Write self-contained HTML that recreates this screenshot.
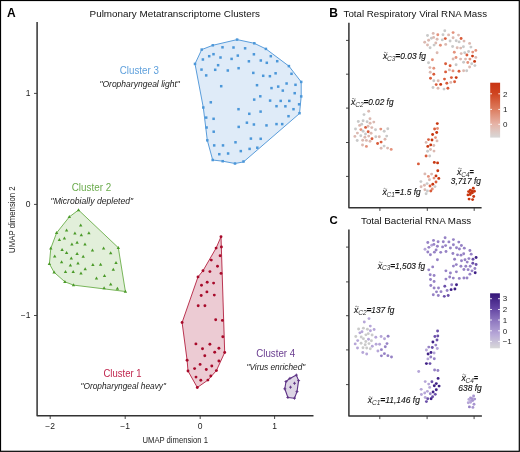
<!DOCTYPE html><html><head><meta charset="utf-8"><style>html,body{margin:0;padding:0;background:#fff;}svg{display:block;will-change:transform;font-family:"Liberation Sans",sans-serif;}</style></head><body>
<svg width="520" height="452" viewBox="0 0 520 452">
<rect x="0" y="0" width="520" height="452" fill="#fff"/>
<rect x="0.5" y="0.5" width="518.8" height="450.8" fill="none" stroke="#000" stroke-width="1.2"/>
<text x="7" y="16.8" font-size="12" font-weight="bold" fill="#000">A</text>
<text x="89.6" y="16.6" font-size="9.4" fill="#111" textLength="170.4" lengthAdjust="spacingAndGlyphs">Pulmonary Metatranscriptome Clusters</text>
<path d="M37.1 22 V415.8 H313.5" fill="none" stroke="#333" stroke-width="1.5" stroke-linejoin="round"/>
<path d="M34 93.4 H37" stroke="#333" stroke-width="0.9"/>
<path d="M34 204.4 H37" stroke="#333" stroke-width="0.9"/>
<path d="M34 315.5 H37" stroke="#333" stroke-width="0.9"/>
<path d="M50.2 415.8 V419" stroke="#333" stroke-width="0.9"/>
<path d="M125.2 415.8 V419" stroke="#333" stroke-width="0.9"/>
<path d="M200.2 415.8 V419" stroke="#333" stroke-width="0.9"/>
<path d="M274.6 415.8 V419" stroke="#333" stroke-width="0.9"/>
<text x="30.4" y="95.8" font-size="8.5" fill="#222" text-anchor="end">1</text>
<text x="30.4" y="207.2" font-size="8.5" fill="#222" text-anchor="end">0</text>
<text x="30.4" y="318.2" font-size="8.5" fill="#222" text-anchor="end">−1</text>
<text x="50.2" y="429.3" font-size="8.5" fill="#222" text-anchor="middle">−2</text>
<text x="125.2" y="429.3" font-size="8.5" fill="#222" text-anchor="middle">−1</text>
<text x="200.2" y="429.3" font-size="8.5" fill="#222" text-anchor="middle">0</text>
<text x="274.6" y="429.3" font-size="8.5" fill="#222" text-anchor="middle">1</text>
<text x="142.5" y="442.7" font-size="9" fill="#222" textLength="65.4" lengthAdjust="spacingAndGlyphs">UMAP dimension 1</text>
<text transform="translate(15.3 252.9) rotate(-90)" font-size="9" fill="#222" textLength="66.6" lengthAdjust="spacingAndGlyphs">UMAP dimension 2</text>
<polygon points="237.1,39.6 254.3,43.3 265.9,48.9 288.9,66.1 301.2,81.9 301.2,96.4 299.5,113.5 243.5,161.9 235,163.5 222.7,161.2 212.7,160 207.3,140.3 203.3,107.5 195,63.9 201.7,49.6 212.8,45.3" fill="#dfebf8" stroke="#5a9ddb" stroke-width="1.0" stroke-linejoin="round"/>
<g fill="#4b97d9">
<rect x="235.85" y="38.35" width="2.5" height="2.5"/>
<rect x="253.05" y="42.05" width="2.5" height="2.5"/>
<rect x="211.55" y="44.05" width="2.5" height="2.5"/>
<rect x="264.65" y="47.65" width="2.5" height="2.5"/>
<rect x="200.45" y="48.35" width="2.5" height="2.5"/>
<rect x="221.25" y="46.05" width="2.5" height="2.5"/>
<rect x="232.25" y="46.25" width="2.5" height="2.5"/>
<rect x="243.85" y="47.05" width="2.5" height="2.5"/>
<rect x="252.65" y="53.05" width="2.5" height="2.5"/>
<rect x="207.95" y="54.95" width="2.5" height="2.5"/>
<rect x="212.25" y="52.95" width="2.5" height="2.5"/>
<rect x="236.55" y="54.35" width="2.5" height="2.5"/>
<rect x="269.55" y="54.95" width="2.5" height="2.5"/>
<rect x="201.65" y="58.25" width="2.5" height="2.5"/>
<rect x="219.25" y="56.25" width="2.5" height="2.5"/>
<rect x="230.35" y="57.65" width="2.5" height="2.5"/>
<rect x="247.65" y="60.05" width="2.5" height="2.5"/>
<rect x="259.55" y="59.25" width="2.5" height="2.5"/>
<rect x="265.55" y="61.55" width="2.5" height="2.5"/>
<rect x="275.95" y="59.95" width="2.5" height="2.5"/>
<rect x="193.75" y="62.65" width="2.5" height="2.5"/>
<rect x="216.85" y="63.95" width="2.5" height="2.5"/>
<rect x="287.65" y="64.85" width="2.5" height="2.5"/>
<rect x="200.25" y="68.35" width="2.5" height="2.5"/>
<rect x="213.95" y="68.55" width="2.5" height="2.5"/>
<rect x="226.55" y="69.25" width="2.5" height="2.5"/>
<rect x="237.35" y="66.95" width="2.5" height="2.5"/>
<rect x="252.05" y="71.65" width="2.5" height="2.5"/>
<rect x="261.95" y="74.55" width="2.5" height="2.5"/>
<rect x="268.65" y="74.95" width="2.5" height="2.5"/>
<rect x="274.35" y="72.05" width="2.5" height="2.5"/>
<rect x="290.25" y="72.55" width="2.5" height="2.5"/>
<rect x="204.95" y="74.15" width="2.5" height="2.5"/>
<rect x="299.95" y="80.65" width="2.5" height="2.5"/>
<rect x="255.75" y="83.95" width="2.5" height="2.5"/>
<rect x="219.95" y="84.95" width="2.5" height="2.5"/>
<rect x="270.25" y="86.85" width="2.5" height="2.5"/>
<rect x="276.95" y="85.35" width="2.5" height="2.5"/>
<rect x="285.35" y="82.25" width="2.5" height="2.5"/>
<rect x="294.25" y="83.55" width="2.5" height="2.5"/>
<rect x="281.55" y="89.35" width="2.5" height="2.5"/>
<rect x="293.45" y="91.95" width="2.5" height="2.5"/>
<rect x="259.05" y="95.05" width="2.5" height="2.5"/>
<rect x="299.95" y="95.15" width="2.5" height="2.5"/>
<rect x="252.95" y="98.35" width="2.5" height="2.5"/>
<rect x="268.85" y="99.35" width="2.5" height="2.5"/>
<rect x="279.45" y="99.65" width="2.5" height="2.5"/>
<rect x="288.05" y="99.65" width="2.5" height="2.5"/>
<rect x="209.55" y="101.05" width="2.5" height="2.5"/>
<rect x="297.85" y="103.05" width="2.5" height="2.5"/>
<rect x="275.25" y="104.95" width="2.5" height="2.5"/>
<rect x="284.15" y="105.05" width="2.5" height="2.5"/>
<rect x="202.05" y="106.25" width="2.5" height="2.5"/>
<rect x="237.25" y="107.95" width="2.5" height="2.5"/>
<rect x="292.25" y="107.95" width="2.5" height="2.5"/>
<rect x="259.35" y="110.35" width="2.5" height="2.5"/>
<rect x="248.05" y="112.55" width="2.5" height="2.5"/>
<rect x="298.25" y="111.95" width="2.5" height="2.5"/>
<rect x="287.25" y="114.95" width="2.5" height="2.5"/>
<rect x="204.95" y="116.35" width="2.5" height="2.5"/>
<rect x="212.35" y="117.55" width="2.5" height="2.5"/>
<rect x="245.65" y="121.45" width="2.5" height="2.5"/>
<rect x="252.65" y="123.25" width="2.5" height="2.5"/>
<rect x="265.25" y="124.15" width="2.5" height="2.5"/>
<rect x="275.25" y="122.85" width="2.5" height="2.5"/>
<rect x="280.95" y="122.85" width="2.5" height="2.5"/>
<rect x="237.45" y="125.65" width="2.5" height="2.5"/>
<rect x="205.35" y="126.25" width="2.5" height="2.5"/>
<rect x="212.45" y="130.45" width="2.5" height="2.5"/>
<rect x="249.65" y="137.35" width="2.5" height="2.5"/>
<rect x="259.45" y="137.55" width="2.5" height="2.5"/>
<rect x="206.05" y="139.05" width="2.5" height="2.5"/>
<rect x="234.25" y="141.05" width="2.5" height="2.5"/>
<rect x="212.95" y="144.15" width="2.5" height="2.5"/>
<rect x="221.75" y="144.15" width="2.5" height="2.5"/>
<rect x="239.55" y="149.85" width="2.5" height="2.5"/>
<rect x="248.35" y="147.65" width="2.5" height="2.5"/>
<rect x="256.05" y="146.45" width="2.5" height="2.5"/>
<rect x="218.05" y="152.95" width="2.5" height="2.5"/>
<rect x="226.85" y="152.25" width="2.5" height="2.5"/>
<rect x="211.45" y="158.75" width="2.5" height="2.5"/>
<rect x="221.45" y="159.95" width="2.5" height="2.5"/>
<rect x="233.75" y="162.25" width="2.5" height="2.5"/>
<rect x="242.25" y="160.25" width="2.5" height="2.5"/>
</g>
<polygon points="78.5,210 118.3,247.7 125.4,291.5 73.5,285.1 64.9,281.8 54.1,272.3 49.4,263.8 50.8,248.3 56.6,232.9 69.3,216.9" fill="#e2efda" stroke="#6aae48" stroke-width="0.9" stroke-linejoin="round"/>
<g fill="#4a9a28">
<path d="M78.5 208.2l1.7 3h-3.4z"/>
<path d="M69.3 215.1l1.7 3h-3.4z"/>
<path d="M80.7 223.4l1.7 3h-3.4z"/>
<path d="M88.9 231.3l1.7 3h-3.4z"/>
<path d="M56.6 231.1l1.7 3h-3.4z"/>
<path d="M66.6 228.6l1.7 3h-3.4z"/>
<path d="M74.9 231.4l1.7 3h-3.4z"/>
<path d="M81.3 233.3l1.7 3h-3.4z"/>
<path d="M59.4 238l1.7 3h-3.4z"/>
<path d="M64.4 236.6l1.7 3h-3.4z"/>
<path d="M77.1 240.8l1.7 3h-3.4z"/>
<path d="M71.9 242.5l1.7 3h-3.4z"/>
<path d="M85 242.6l1.7 3h-3.4z"/>
<path d="M50.8 246.5l1.7 3h-3.4z"/>
<path d="M62.1 248.1l1.7 3h-3.4z"/>
<path d="M66.6 251.1l1.7 3h-3.4z"/>
<path d="M77.1 251.9l1.7 3h-3.4z"/>
<path d="M92.5 248.5l1.7 3h-3.4z"/>
<path d="M103.6 246.5l1.7 3h-3.4z"/>
<path d="M110.7 251.3l1.7 3h-3.4z"/>
<path d="M118.3 245.9l1.7 3h-3.4z"/>
<path d="M83.2 254.8l1.7 3h-3.4z"/>
<path d="M54.7 254.6l1.7 3h-3.4z"/>
<path d="M71.3 256.5l1.7 3h-3.4z"/>
<path d="M61.6 260.3l1.7 3h-3.4z"/>
<path d="M70.4 263.6l1.7 3h-3.4z"/>
<path d="M78 261.4l1.7 3h-3.4z"/>
<path d="M85.2 267.2l1.7 3h-3.4z"/>
<path d="M92.9 263.1l1.7 3h-3.4z"/>
<path d="M100.6 262.8l1.7 3h-3.4z"/>
<path d="M116 261l1.7 3h-3.4z"/>
<path d="M113.3 267.7l1.7 3h-3.4z"/>
<path d="M65.5 270.1l1.7 3h-3.4z"/>
<path d="M73.2 270.1l1.7 3h-3.4z"/>
<path d="M81 271.6l1.7 3h-3.4z"/>
<path d="M96.5 276.6l1.7 3h-3.4z"/>
<path d="M104.5 273.9l1.7 3h-3.4z"/>
<path d="M110.7 282.6l1.7 3h-3.4z"/>
<path d="M49.4 262l1.7 3h-3.4z"/>
<path d="M54.1 270.5l1.7 3h-3.4z"/>
<path d="M64.9 280l1.7 3h-3.4z"/>
<path d="M73.5 283.3l1.7 3h-3.4z"/>
<path d="M104.1 286.3l1.7 3h-3.4z"/>
<path d="M117.4 286.7l1.7 3h-3.4z"/>
<path d="M125.4 289.7l1.7 3h-3.4z"/>
</g>
<polygon points="221,236.7 224.7,352.5 216.4,370.6 207.9,380.1 197.3,387.5 188,371 187.1,360.2 182.1,322.5 198,276.9 203,270.7 216.1,248.1" fill="#eccbd3" stroke="#b3203f" stroke-width="0.9" stroke-linejoin="round"/>
<g fill="#a80a2a">
<circle cx="221" cy="236.7" r="1.45"/>
<circle cx="216.1" cy="248.1" r="1.45"/>
<circle cx="221.4" cy="247" r="1.45"/>
<circle cx="220.1" cy="255.7" r="1.45"/>
<circle cx="211.3" cy="260.1" r="1.45"/>
<circle cx="217.5" cy="266.3" r="1.45"/>
<circle cx="203" cy="270.7" r="1.45"/>
<circle cx="209.9" cy="271.6" r="1.45"/>
<circle cx="221" cy="273.4" r="1.45"/>
<circle cx="198" cy="276.9" r="1.45"/>
<circle cx="201.5" cy="285.2" r="1.45"/>
<circle cx="207.2" cy="282.2" r="1.45"/>
<circle cx="213.6" cy="283.1" r="1.45"/>
<circle cx="206.9" cy="291.9" r="1.45"/>
<circle cx="201.2" cy="295.5" r="1.45"/>
<circle cx="214.3" cy="295.1" r="1.45"/>
<circle cx="198.2" cy="305.7" r="1.45"/>
<circle cx="204.9" cy="305.7" r="1.45"/>
<circle cx="182.1" cy="322.5" r="1.45"/>
<circle cx="215.7" cy="319.8" r="1.45"/>
<circle cx="222.4" cy="320.4" r="1.45"/>
<circle cx="222.8" cy="336.8" r="1.45"/>
<circle cx="195.9" cy="343.9" r="1.45"/>
<circle cx="209.9" cy="344.2" r="1.45"/>
<circle cx="202.5" cy="348.7" r="1.45"/>
<circle cx="218.9" cy="348.2" r="1.45"/>
<circle cx="214.7" cy="352.3" r="1.45"/>
<circle cx="224.7" cy="352.5" r="1.45"/>
<circle cx="204.8" cy="355.8" r="1.45"/>
<circle cx="187.1" cy="360.2" r="1.45"/>
<circle cx="218.9" cy="361" r="1.45"/>
<circle cx="200.1" cy="364.4" r="1.45"/>
<circle cx="211.8" cy="366" r="1.45"/>
<circle cx="194.6" cy="368.6" r="1.45"/>
<circle cx="206.3" cy="369.5" r="1.45"/>
<circle cx="188" cy="371" r="1.45"/>
<circle cx="216.4" cy="370.6" r="1.45"/>
<circle cx="210.8" cy="376" r="1.45"/>
<circle cx="196" cy="377.1" r="1.45"/>
<circle cx="207.9" cy="380.1" r="1.45"/>
<circle cx="200.8" cy="380.3" r="1.45"/>
<circle cx="197.3" cy="387.5" r="1.45"/>
</g>
<polygon points="296.4,375.1 298.6,380.6 297,391.6 294.5,398.2 287.9,397.5 284.8,388.8 286,381.5 289.9,378.4" fill="#ddd5e5" stroke="#5c3185" stroke-width="1.1" stroke-linejoin="round"/>
<g stroke="#5c3185" stroke-width="0.9">
<path d="M294.9 375.1h3M296.4 373.6v3"/>
<path d="M297.1 380.6h3M298.6 379.1v3"/>
<path d="M295.5 391.6h3M297 390.1v3"/>
<path d="M293 398.2h3M294.5 396.7v3"/>
<path d="M286.4 397.5h3M287.9 396v3"/>
<path d="M283.3 388.8h3M284.8 387.3v3"/>
<path d="M284.5 381.5h3M286 380v3"/>
<path d="M288.4 378.4h3M289.9 376.9v3"/>
<path d="M293 383.3h3M294.5 381.8v3"/>
<path d="M289 387.2h3M290.5 385.7v3"/>
</g>
<text x="119.8" y="74" font-size="10.5" fill="#5fa0dc" textLength="39" lengthAdjust="spacingAndGlyphs">Cluster 3</text>
<text x="99.4" y="86.6" font-size="8.6" font-style="italic" fill="#222" textLength="80.4" lengthAdjust="spacingAndGlyphs">"Oropharyngeal light"</text>
<text x="71.7" y="191.3" font-size="10.5" fill="#6aab4c" textLength="39.5" lengthAdjust="spacingAndGlyphs">Cluster 2</text>
<text x="50.6" y="203.5" font-size="8.6" font-style="italic" fill="#222" textLength="82.6" lengthAdjust="spacingAndGlyphs">"Microbially depleted"</text>
<text x="103.5" y="376.8" font-size="10.5" fill="#c0264e" textLength="38" lengthAdjust="spacingAndGlyphs">Cluster 1</text>
<text x="80.5" y="389.3" font-size="8.6" font-style="italic" fill="#222" textLength="85.4" lengthAdjust="spacingAndGlyphs">"Oropharyngeal heavy"</text>
<text x="256.2" y="357" font-size="10.5" fill="#6a3d90" textLength="39" lengthAdjust="spacingAndGlyphs">Cluster 4</text>
<text x="246.5" y="369.6" font-size="8.6" font-style="italic" fill="#222" textLength="58.8" lengthAdjust="spacingAndGlyphs">"Virus enriched"</text>
<text x="329.3" y="16.9" font-size="12" font-weight="bold" fill="#000">B</text>
<text x="343.6" y="16.9" font-size="9.4" fill="#111" textLength="143.4" lengthAdjust="spacingAndGlyphs">Total Respiratory Viral RNA Mass</text>
<path d="M348.9 22.7 V207.8 H481.6" fill="none" stroke="#333" stroke-width="1.5" stroke-linejoin="round"/>
<path d="M346 40.4 H349" stroke="#333" stroke-width="0.9"/>
<path d="M346 74.2 H349" stroke="#333" stroke-width="0.9"/>
<path d="M346 108.1 H349" stroke="#333" stroke-width="0.9"/>
<path d="M346 142.5 H349" stroke="#333" stroke-width="0.9"/>
<path d="M346 176.4 H349" stroke="#333" stroke-width="0.9"/>
<path d="M379.9 207.8 V210.9" stroke="#333" stroke-width="0.9"/>
<path d="M427.3 207.8 V210.9" stroke="#333" stroke-width="0.9"/>
<path d="M474.2 207.8 V210.9" stroke="#333" stroke-width="0.9"/>
<text x="329.4" y="223.6" font-size="11.4" font-weight="bold" fill="#000">C</text>
<text x="361.0" y="223.6" font-size="9.4" fill="#111" textLength="110.2" lengthAdjust="spacingAndGlyphs">Total Bacterial RNA Mass</text>
<path d="M348.9 229.4 V416 H481.9" fill="none" stroke="#333" stroke-width="1.5" stroke-linejoin="round"/>
<path d="M346 247.1 H349" stroke="#333" stroke-width="0.9"/>
<path d="M346 281.9 H349" stroke="#333" stroke-width="0.9"/>
<path d="M346 315.7 H349" stroke="#333" stroke-width="0.9"/>
<path d="M346 349.9 H349" stroke="#333" stroke-width="0.9"/>
<path d="M346 384.6 H349" stroke="#333" stroke-width="0.9"/>
<path d="M379.8 416 V419.1" stroke="#333" stroke-width="0.9"/>
<path d="M427.1 416 V419.1" stroke="#333" stroke-width="0.9"/>
<path d="M474.1 416 V419.1" stroke="#333" stroke-width="0.9"/>
<g>
<circle cx="444.8" cy="30.8" r="1.45" fill="#c9c9c9"/>
<circle cx="433.2" cy="33.4" r="1.45" fill="#dbb9b1"/>
<circle cx="437.8" cy="34.7" r="1.45" fill="#e4927c"/>
<circle cx="443" cy="34.7" r="1.45" fill="#c9c9c9"/>
<circle cx="448.6" cy="34.9" r="1.45" fill="#dbb9b1"/>
<circle cx="427.5" cy="35.5" r="1.45" fill="#c9c9c9"/>
<circle cx="431.4" cy="38.3" r="1.45" fill="#c9c9c9"/>
<circle cx="433.6" cy="37.4" r="1.45" fill="#dbb9b1"/>
<circle cx="437.1" cy="39.2" r="1.45" fill="#dbb9b1"/>
<circle cx="442.3" cy="39.9" r="1.45" fill="#c9c9c9"/>
<circle cx="445.3" cy="38.6" r="1.45" fill="#d95c3b"/>
<circle cx="428.6" cy="40.3" r="1.45" fill="#dbb9b1"/>
<circle cx="424.7" cy="42.2" r="1.45" fill="#dbb9b1"/>
<circle cx="435.8" cy="43" r="1.45" fill="#dbb9b1"/>
<circle cx="434.1" cy="45.1" r="1.45" fill="#c9c9c9"/>
<circle cx="427.5" cy="45" r="1.45" fill="#dbb9b1"/>
<circle cx="440.4" cy="45.3" r="1.45" fill="#e4927c"/>
<circle cx="445.7" cy="44.4" r="1.45" fill="#dbb9b1"/>
<circle cx="430.1" cy="47.7" r="1.45" fill="#c9c9c9"/>
<circle cx="450.1" cy="41" r="1.45" fill="#c9c9c9"/>
<circle cx="437.1" cy="52.7" r="1.45" fill="#dbb9b1"/>
<circle cx="432.4" cy="59.8" r="1.45" fill="#e4927c"/>
<circle cx="453.1" cy="32.6" r="1.45" fill="#e4927c"/>
<circle cx="458.5" cy="35.1" r="1.45" fill="#dbb9b1"/>
<circle cx="453.1" cy="37.8" r="1.45" fill="#dbb9b1"/>
<circle cx="461.1" cy="38.5" r="1.45" fill="#d95c3b"/>
<circle cx="456.2" cy="40.7" r="1.45" fill="#c9c9c9"/>
<circle cx="459.1" cy="41.9" r="1.45" fill="#c9c9c9"/>
<circle cx="464" cy="41.1" r="1.45" fill="#dbb9b1"/>
<circle cx="469.6" cy="43.4" r="1.45" fill="#dbb9b1"/>
<circle cx="452.6" cy="46.5" r="1.45" fill="#c9c9c9"/>
<circle cx="457.2" cy="47.8" r="1.45" fill="#dbb9b1"/>
<circle cx="460.7" cy="48.1" r="1.45" fill="#dbb9b1"/>
<circle cx="463.4" cy="46.7" r="1.45" fill="#c9c9c9"/>
<circle cx="470.9" cy="47.1" r="1.45" fill="#c9c9c9"/>
<circle cx="454.3" cy="52.2" r="1.45" fill="#e4927c"/>
<circle cx="461.2" cy="53.6" r="1.45" fill="#dbb9b1"/>
<circle cx="464.7" cy="52.7" r="1.45" fill="#c9c9c9"/>
<circle cx="468.6" cy="51.5" r="1.45" fill="#c9c9c9"/>
<circle cx="472.7" cy="52.1" r="1.45" fill="#e4927c"/>
<circle cx="475.8" cy="50.4" r="1.45" fill="#e4927c"/>
<circle cx="466.9" cy="55" r="1.45" fill="#d95c3b"/>
<circle cx="472.5" cy="56.1" r="1.45" fill="#c8360f"/>
<circle cx="475.8" cy="57.4" r="1.45" fill="#dbb9b1"/>
<circle cx="456" cy="57.5" r="1.45" fill="#e4927c"/>
<circle cx="453.1" cy="59" r="1.45" fill="#dbb9b1"/>
<circle cx="460.6" cy="59.1" r="1.45" fill="#dbb9b1"/>
<circle cx="465.5" cy="59.1" r="1.45" fill="#dbb9b1"/>
<circle cx="469.9" cy="59.1" r="1.45" fill="#e4927c"/>
<circle cx="428.5" cy="62.7" r="1.45" fill="#c9c9c9"/>
<circle cx="429.9" cy="67.6" r="1.45" fill="#dbb9b1"/>
<circle cx="433.8" cy="68.3" r="1.45" fill="#e4927c"/>
<circle cx="430.2" cy="72.3" r="1.45" fill="#dbb9b1"/>
<circle cx="433.8" cy="74.3" r="1.45" fill="#d95c3b"/>
<circle cx="430.5" cy="78.3" r="1.45" fill="#d95c3b"/>
<circle cx="433.8" cy="80.7" r="1.45" fill="#c9c9c9"/>
<circle cx="438.2" cy="80.7" r="1.45" fill="#dbb9b1"/>
<circle cx="436.2" cy="84.6" r="1.45" fill="#d95c3b"/>
<circle cx="440.7" cy="84.4" r="1.45" fill="#c8360f"/>
<circle cx="433" cy="87.5" r="1.45" fill="#c9c9c9"/>
<circle cx="438" cy="88.2" r="1.45" fill="#dbb9b1"/>
<circle cx="444" cy="89.1" r="1.45" fill="#c9c9c9"/>
<circle cx="447.9" cy="88.3" r="1.45" fill="#d95c3b"/>
<circle cx="445.6" cy="63.7" r="1.45" fill="#d95c3b"/>
<circle cx="450.1" cy="65.8" r="1.45" fill="#d95c3b"/>
<circle cx="449.4" cy="69.9" r="1.45" fill="#dbb9b1"/>
<circle cx="445.6" cy="71.9" r="1.45" fill="#d95c3b"/>
<circle cx="444.5" cy="79.1" r="1.45" fill="#d95c3b"/>
<circle cx="446.8" cy="83.3" r="1.45" fill="#d95c3b"/>
<circle cx="474.6" cy="61.4" r="1.45" fill="#c8360f"/>
<circle cx="463.6" cy="62.3" r="1.45" fill="#c9c9c9"/>
<circle cx="467.8" cy="62.5" r="1.45" fill="#e4927c"/>
<circle cx="471.7" cy="63.7" r="1.45" fill="#c9c9c9"/>
<circle cx="474.9" cy="65.6" r="1.45" fill="#c9c9c9"/>
<circle cx="456.1" cy="64.7" r="1.45" fill="#c9c9c9"/>
<circle cx="469.6" cy="67" r="1.45" fill="#dbb9b1"/>
<circle cx="453" cy="70.9" r="1.45" fill="#e4927c"/>
<circle cx="459" cy="71.2" r="1.45" fill="#d95c3b"/>
<circle cx="463.6" cy="70.8" r="1.45" fill="#dbb9b1"/>
<circle cx="466.7" cy="70.8" r="1.45" fill="#c9c9c9"/>
<circle cx="451.4" cy="77.6" r="1.45" fill="#d95c3b"/>
<circle cx="456.2" cy="77.6" r="1.45" fill="#c8360f"/>
<circle cx="450.8" cy="82.4" r="1.45" fill="#dbb9b1"/>
<circle cx="454.6" cy="81.7" r="1.45" fill="#d95c3b"/>
<circle cx="368.7" cy="111.2" r="1.45" fill="#dbb9b1"/>
<circle cx="364" cy="114.6" r="1.45" fill="#c9c9c9"/>
<circle cx="370" cy="118.7" r="1.45" fill="#dbb9b1"/>
<circle cx="358.3" cy="121.5" r="1.45" fill="#c9c9c9"/>
<circle cx="363.1" cy="120.7" r="1.45" fill="#c9c9c9"/>
<circle cx="367.1" cy="121.8" r="1.45" fill="#c9c9c9"/>
<circle cx="370.1" cy="123.3" r="1.45" fill="#dbb9b1"/>
<circle cx="373.8" cy="122.1" r="1.45" fill="#dbb9b1"/>
<circle cx="361.7" cy="124.3" r="1.45" fill="#c9c9c9"/>
<circle cx="359.6" cy="125.4" r="1.45" fill="#dbb9b1"/>
<circle cx="365.6" cy="127.4" r="1.45" fill="#d95c3b"/>
<circle cx="368" cy="126.2" r="1.45" fill="#dbb9b1"/>
<circle cx="371.8" cy="127.6" r="1.45" fill="#dbb9b1"/>
<circle cx="355.5" cy="129" r="1.45" fill="#c9c9c9"/>
<circle cx="360.9" cy="129.6" r="1.45" fill="#e4927c"/>
<circle cx="375.5" cy="129.8" r="1.45" fill="#c9c9c9"/>
<circle cx="380.8" cy="129.1" r="1.45" fill="#e4927c"/>
<circle cx="384.2" cy="131.3" r="1.45" fill="#c9c9c9"/>
<circle cx="387.8" cy="128.8" r="1.45" fill="#c9c9c9"/>
<circle cx="363.1" cy="131.3" r="1.45" fill="#c9c9c9"/>
<circle cx="368.2" cy="131.7" r="1.45" fill="#d95c3b"/>
<circle cx="357.4" cy="133.1" r="1.45" fill="#dbb9b1"/>
<circle cx="365.5" cy="134" r="1.45" fill="#c9c9c9"/>
<circle cx="371.1" cy="133.3" r="1.45" fill="#dbb9b1"/>
<circle cx="354.9" cy="136.4" r="1.45" fill="#dbb9b1"/>
<circle cx="360.8" cy="135.8" r="1.45" fill="#c9c9c9"/>
<circle cx="364.9" cy="137.3" r="1.45" fill="#dbb9b1"/>
<circle cx="368.7" cy="136.1" r="1.45" fill="#dbb9b1"/>
<circle cx="375.8" cy="136.8" r="1.45" fill="#c9c9c9"/>
<circle cx="379.3" cy="136.8" r="1.45" fill="#dbb9b1"/>
<circle cx="386.7" cy="136.1" r="1.45" fill="#c9c9c9"/>
<circle cx="372" cy="138.8" r="1.45" fill="#d95c3b"/>
<circle cx="385" cy="139.2" r="1.45" fill="#dbb9b1"/>
<circle cx="357.2" cy="140.5" r="1.45" fill="#c9c9c9"/>
<circle cx="362.7" cy="140.2" r="1.45" fill="#dbb9b1"/>
<circle cx="366.4" cy="140.4" r="1.45" fill="#dbb9b1"/>
<circle cx="370" cy="141.2" r="1.45" fill="#dbb9b1"/>
<circle cx="377.6" cy="143.5" r="1.45" fill="#d95c3b"/>
<circle cx="381.1" cy="142.1" r="1.45" fill="#d95c3b"/>
<circle cx="362.5" cy="145" r="1.45" fill="#dbb9b1"/>
<circle cx="366.4" cy="146.4" r="1.45" fill="#e4927c"/>
<circle cx="381.1" cy="148.3" r="1.45" fill="#dbb9b1"/>
<circle cx="384.1" cy="146.1" r="1.45" fill="#c9c9c9"/>
<circle cx="387.6" cy="148.1" r="1.45" fill="#dbb9b1"/>
<circle cx="391.2" cy="149.4" r="1.45" fill="#e4927c"/>
<circle cx="437.3" cy="123.6" r="1.45" fill="#c8360f"/>
<circle cx="434.6" cy="129" r="1.45" fill="#d95c3b"/>
<circle cx="437.5" cy="128.5" r="1.45" fill="#e4927c"/>
<circle cx="436.7" cy="132.5" r="1.45" fill="#c8360f"/>
<circle cx="432.6" cy="134.5" r="1.45" fill="#c8360f"/>
<circle cx="435.5" cy="137.6" r="1.45" fill="#e4927c"/>
<circle cx="428.5" cy="139.6" r="1.45" fill="#d95c3b"/>
<circle cx="432" cy="140" r="1.45" fill="#c8360f"/>
<circle cx="437" cy="140.9" r="1.45" fill="#dbb9b1"/>
<circle cx="426.1" cy="142.4" r="1.45" fill="#dbb9b1"/>
<circle cx="430.7" cy="144.9" r="1.45" fill="#c8360f"/>
<circle cx="427.8" cy="146.4" r="1.45" fill="#c8360f"/>
<circle cx="433.8" cy="145.5" r="1.45" fill="#dbb9b1"/>
<circle cx="430.5" cy="149.5" r="1.45" fill="#dbb9b1"/>
<circle cx="427.6" cy="151.3" r="1.45" fill="#c9c9c9"/>
<circle cx="434" cy="151.1" r="1.45" fill="#dbb9b1"/>
<circle cx="426.1" cy="156" r="1.45" fill="#d95c3b"/>
<circle cx="429.7" cy="156" r="1.45" fill="#c9c9c9"/>
<circle cx="418.4" cy="163.9" r="1.45" fill="#d95c3b"/>
<circle cx="434.3" cy="162.4" r="1.45" fill="#c8360f"/>
<circle cx="437.6" cy="162.9" r="1.45" fill="#c8360f"/>
<circle cx="437.8" cy="170.7" r="1.45" fill="#c8360f"/>
<circle cx="424.9" cy="173.9" r="1.45" fill="#dbb9b1"/>
<circle cx="431.6" cy="174.1" r="1.45" fill="#dbb9b1"/>
<circle cx="428.4" cy="176.4" r="1.45" fill="#e4927c"/>
<circle cx="436" cy="175.9" r="1.45" fill="#c8360f"/>
<circle cx="434" cy="178.1" r="1.45" fill="#e4927c"/>
<circle cx="438.8" cy="178.4" r="1.45" fill="#c8360f"/>
<circle cx="429.4" cy="179.7" r="1.45" fill="#dbb9b1"/>
<circle cx="420.9" cy="181.6" r="1.45" fill="#c9c9c9"/>
<circle cx="436" cy="182" r="1.45" fill="#d95c3b"/>
<circle cx="427.1" cy="183.6" r="1.45" fill="#c9c9c9"/>
<circle cx="424.4" cy="185.3" r="1.45" fill="#dbb9b1"/>
<circle cx="432.8" cy="184.3" r="1.45" fill="#c8360f"/>
<circle cx="430" cy="186" r="1.45" fill="#d95c3b"/>
<circle cx="421.1" cy="186.8" r="1.45" fill="#dbb9b1"/>
<circle cx="435" cy="186.6" r="1.45" fill="#c9c9c9"/>
<circle cx="432.3" cy="189" r="1.45" fill="#e4927c"/>
<circle cx="424.9" cy="189.8" r="1.45" fill="#dbb9b1"/>
<circle cx="430.8" cy="191" r="1.45" fill="#d95c3b"/>
<circle cx="427.4" cy="191" r="1.45" fill="#c9c9c9"/>
<circle cx="426.1" cy="193.8" r="1.45" fill="#c9c9c9"/>
<circle cx="473.3" cy="188.3" r="1.45" fill="#c8360f"/>
<circle cx="470.2" cy="190.1" r="1.45" fill="#c8360f"/>
<circle cx="468.6" cy="191.6" r="1.45" fill="#c8360f"/>
<circle cx="471.9" cy="191" r="1.45" fill="#c8360f"/>
<circle cx="474.4" cy="191.3" r="1.45" fill="#c8360f"/>
<circle cx="470.5" cy="193" r="1.45" fill="#c8360f"/>
<circle cx="472.4" cy="192.8" r="1.45" fill="#c8360f"/>
<circle cx="468" cy="194.9" r="1.45" fill="#c8360f"/>
<circle cx="470.2" cy="194.5" r="1.45" fill="#c8360f"/>
<circle cx="473.7" cy="196.5" r="1.45" fill="#c8360f"/>
<circle cx="469.1" cy="199.1" r="1.45" fill="#c8360f"/>
<circle cx="472.6" cy="199.6" r="1.45" fill="#c8360f"/>
</g><g>
<circle cx="445.1" cy="237.78" r="1.45" fill="#9682c5"/>
<circle cx="433.5" cy="240.39" r="1.45" fill="#9682c5"/>
<circle cx="438.1" cy="241.7" r="1.45" fill="#9682c5"/>
<circle cx="443.3" cy="241.7" r="1.45" fill="#9682c5"/>
<circle cx="448.9" cy="241.9" r="1.45" fill="#9682c5"/>
<circle cx="427.8" cy="242.5" r="1.45" fill="#9682c5"/>
<circle cx="431.7" cy="245.32" r="1.45" fill="#b6a6d8"/>
<circle cx="433.9" cy="244.41" r="1.45" fill="#9682c5"/>
<circle cx="437.4" cy="246.22" r="1.45" fill="#9682c5"/>
<circle cx="442.6" cy="246.92" r="1.45" fill="#9682c5"/>
<circle cx="445.6" cy="245.62" r="1.45" fill="#9682c5"/>
<circle cx="428.9" cy="247.33" r="1.45" fill="#9682c5"/>
<circle cx="425" cy="249.24" r="1.45" fill="#b6a6d8"/>
<circle cx="436.1" cy="250.04" r="1.45" fill="#9682c5"/>
<circle cx="434.4" cy="252.15" r="1.45" fill="#9682c5"/>
<circle cx="427.8" cy="252.05" r="1.45" fill="#9682c5"/>
<circle cx="440.7" cy="252.35" r="1.45" fill="#9682c5"/>
<circle cx="446" cy="251.45" r="1.45" fill="#9682c5"/>
<circle cx="430.4" cy="254.76" r="1.45" fill="#9682c5"/>
<circle cx="450.4" cy="248.03" r="1.45" fill="#9682c5"/>
<circle cx="437.4" cy="259.79" r="1.45" fill="#9682c5"/>
<circle cx="432.7" cy="266.92" r="1.45" fill="#9682c5"/>
<circle cx="453.4" cy="239.59" r="1.45" fill="#9682c5"/>
<circle cx="458.8" cy="242.1" r="1.45" fill="#9682c5"/>
<circle cx="453.4" cy="244.81" r="1.45" fill="#9682c5"/>
<circle cx="461.4" cy="245.52" r="1.45" fill="#9682c5"/>
<circle cx="456.5" cy="247.73" r="1.45" fill="#9682c5"/>
<circle cx="459.4" cy="248.93" r="1.45" fill="#9682c5"/>
<circle cx="464.3" cy="248.13" r="1.45" fill="#9682c5"/>
<circle cx="469.9" cy="250.44" r="1.45" fill="#9682c5"/>
<circle cx="452.9" cy="253.56" r="1.45" fill="#9682c5"/>
<circle cx="457.5" cy="254.86" r="1.45" fill="#9682c5"/>
<circle cx="461" cy="255.17" r="1.45" fill="#9682c5"/>
<circle cx="463.7" cy="253.76" r="1.45" fill="#9682c5"/>
<circle cx="471.2" cy="254.16" r="1.45" fill="#9682c5"/>
<circle cx="454.6" cy="259.29" r="1.45" fill="#9682c5"/>
<circle cx="461.5" cy="260.69" r="1.45" fill="#9682c5"/>
<circle cx="465" cy="259.79" r="1.45" fill="#9682c5"/>
<circle cx="468.9" cy="258.58" r="1.45" fill="#9682c5"/>
<circle cx="473" cy="259.19" r="1.45" fill="#6b50a9"/>
<circle cx="476.1" cy="257.48" r="1.45" fill="#3f2086"/>
<circle cx="467.2" cy="262.1" r="1.45" fill="#9682c5"/>
<circle cx="472.8" cy="263.21" r="1.45" fill="#6b50a9"/>
<circle cx="476.1" cy="264.51" r="1.45" fill="#6b50a9"/>
<circle cx="456.3" cy="264.61" r="1.45" fill="#9682c5"/>
<circle cx="453.4" cy="266.12" r="1.45" fill="#9682c5"/>
<circle cx="460.9" cy="266.22" r="1.45" fill="#9682c5"/>
<circle cx="465.8" cy="266.22" r="1.45" fill="#9682c5"/>
<circle cx="470.2" cy="266.22" r="1.45" fill="#9682c5"/>
<circle cx="428.8" cy="269.84" r="1.45" fill="#9682c5"/>
<circle cx="430.2" cy="274.76" r="1.45" fill="#9682c5"/>
<circle cx="434.1" cy="275.47" r="1.45" fill="#9682c5"/>
<circle cx="430.5" cy="279.49" r="1.45" fill="#9682c5"/>
<circle cx="434.1" cy="281.5" r="1.45" fill="#9682c5"/>
<circle cx="430.8" cy="285.52" r="1.45" fill="#9682c5"/>
<circle cx="434.1" cy="287.93" r="1.45" fill="#9682c5"/>
<circle cx="438.5" cy="287.93" r="1.45" fill="#9682c5"/>
<circle cx="436.5" cy="291.85" r="1.45" fill="#9682c5"/>
<circle cx="441" cy="291.65" r="1.45" fill="#9682c5"/>
<circle cx="433.3" cy="294.76" r="1.45" fill="#9682c5"/>
<circle cx="438.3" cy="295.47" r="1.45" fill="#9682c5"/>
<circle cx="444.3" cy="296.37" r="1.45" fill="#6b50a9"/>
<circle cx="448.2" cy="295.57" r="1.45" fill="#6b50a9"/>
<circle cx="445.9" cy="270.84" r="1.45" fill="#9682c5"/>
<circle cx="450.4" cy="272.95" r="1.45" fill="#9682c5"/>
<circle cx="449.7" cy="277.07" r="1.45" fill="#9682c5"/>
<circle cx="445.9" cy="279.08" r="1.45" fill="#9682c5"/>
<circle cx="444.8" cy="286.32" r="1.45" fill="#6b50a9"/>
<circle cx="447.1" cy="290.54" r="1.45" fill="#9682c5"/>
<circle cx="474.9" cy="268.53" r="1.45" fill="#9682c5"/>
<circle cx="463.9" cy="269.44" r="1.45" fill="#9682c5"/>
<circle cx="468.1" cy="269.64" r="1.45" fill="#9682c5"/>
<circle cx="472" cy="270.84" r="1.45" fill="#9682c5"/>
<circle cx="475.2" cy="272.75" r="1.45" fill="#3f2086"/>
<circle cx="456.4" cy="271.85" r="1.45" fill="#9682c5"/>
<circle cx="469.9" cy="274.16" r="1.45" fill="#9682c5"/>
<circle cx="453.3" cy="278.08" r="1.45" fill="#9682c5"/>
<circle cx="459.3" cy="278.38" r="1.45" fill="#9682c5"/>
<circle cx="463.9" cy="277.98" r="1.45" fill="#9682c5"/>
<circle cx="467" cy="277.98" r="1.45" fill="#9682c5"/>
<circle cx="451.7" cy="284.81" r="1.45" fill="#9682c5"/>
<circle cx="456.5" cy="284.81" r="1.45" fill="#3f2086"/>
<circle cx="451.1" cy="289.64" r="1.45" fill="#3f2086"/>
<circle cx="454.9" cy="288.93" r="1.45" fill="#3f2086"/>
<circle cx="369" cy="318.58" r="1.45" fill="#b6a6d8"/>
<circle cx="364.3" cy="322" r="1.45" fill="#b6a6d8"/>
<circle cx="370.3" cy="326.12" r="1.45" fill="#b6a6d8"/>
<circle cx="358.6" cy="328.93" r="1.45" fill="#cacaca"/>
<circle cx="363.4" cy="328.13" r="1.45" fill="#cacaca"/>
<circle cx="367.4" cy="329.23" r="1.45" fill="#cacaca"/>
<circle cx="370.4" cy="330.74" r="1.45" fill="#b6a6d8"/>
<circle cx="374.1" cy="329.54" r="1.45" fill="#b6a6d8"/>
<circle cx="362" cy="331.75" r="1.45" fill="#b6a6d8"/>
<circle cx="359.9" cy="332.85" r="1.45" fill="#b6a6d8"/>
<circle cx="365.9" cy="334.86" r="1.45" fill="#cacaca"/>
<circle cx="368.3" cy="333.66" r="1.45" fill="#cacaca"/>
<circle cx="372.1" cy="335.06" r="1.45" fill="#cacaca"/>
<circle cx="355.8" cy="336.47" r="1.45" fill="#cacaca"/>
<circle cx="361.2" cy="337.07" r="1.45" fill="#cacaca"/>
<circle cx="375.8" cy="337.27" r="1.45" fill="#b6a6d8"/>
<circle cx="381.1" cy="336.57" r="1.45" fill="#b6a6d8"/>
<circle cx="384.5" cy="338.78" r="1.45" fill="#b6a6d8"/>
<circle cx="388.1" cy="336.27" r="1.45" fill="#9682c5"/>
<circle cx="363.4" cy="338.78" r="1.45" fill="#cacaca"/>
<circle cx="368.5" cy="339.18" r="1.45" fill="#b6a6d8"/>
<circle cx="357.7" cy="340.59" r="1.45" fill="#b6a6d8"/>
<circle cx="365.8" cy="341.5" r="1.45" fill="#cacaca"/>
<circle cx="371.4" cy="340.79" r="1.45" fill="#cacaca"/>
<circle cx="355.2" cy="343.91" r="1.45" fill="#b6a6d8"/>
<circle cx="361.1" cy="343.3" r="1.45" fill="#cacaca"/>
<circle cx="365.2" cy="344.81" r="1.45" fill="#cacaca"/>
<circle cx="369" cy="343.61" r="1.45" fill="#cacaca"/>
<circle cx="376.1" cy="344.31" r="1.45" fill="#b6a6d8"/>
<circle cx="379.6" cy="344.31" r="1.45" fill="#b6a6d8"/>
<circle cx="387" cy="343.61" r="1.45" fill="#9682c5"/>
<circle cx="372.3" cy="346.32" r="1.45" fill="#b6a6d8"/>
<circle cx="385.3" cy="346.72" r="1.45" fill="#9682c5"/>
<circle cx="357.5" cy="348.03" r="1.45" fill="#b6a6d8"/>
<circle cx="363" cy="347.73" r="1.45" fill="#cacaca"/>
<circle cx="366.7" cy="347.93" r="1.45" fill="#cacaca"/>
<circle cx="370.3" cy="348.73" r="1.45" fill="#cacaca"/>
<circle cx="377.9" cy="351.04" r="1.45" fill="#b6a6d8"/>
<circle cx="381.4" cy="349.64" r="1.45" fill="#9682c5"/>
<circle cx="362.8" cy="352.55" r="1.45" fill="#b6a6d8"/>
<circle cx="366.7" cy="353.96" r="1.45" fill="#b6a6d8"/>
<circle cx="381.4" cy="355.87" r="1.45" fill="#9682c5"/>
<circle cx="384.4" cy="353.66" r="1.45" fill="#9682c5"/>
<circle cx="387.9" cy="355.67" r="1.45" fill="#9682c5"/>
<circle cx="391.5" cy="356.97" r="1.45" fill="#9682c5"/>
<circle cx="437.6" cy="331.04" r="1.45" fill="#6b50a9"/>
<circle cx="434.9" cy="336.47" r="1.45" fill="#6b50a9"/>
<circle cx="437.8" cy="335.97" r="1.45" fill="#6b50a9"/>
<circle cx="437" cy="339.99" r="1.45" fill="#6b50a9"/>
<circle cx="432.9" cy="342" r="1.45" fill="#3f2086"/>
<circle cx="435.8" cy="345.11" r="1.45" fill="#9682c5"/>
<circle cx="428.8" cy="347.12" r="1.45" fill="#9682c5"/>
<circle cx="432.3" cy="347.52" r="1.45" fill="#6b50a9"/>
<circle cx="437.3" cy="348.43" r="1.45" fill="#b6a6d8"/>
<circle cx="426.4" cy="349.94" r="1.45" fill="#b6a6d8"/>
<circle cx="431" cy="352.45" r="1.45" fill="#3f2086"/>
<circle cx="428.1" cy="353.96" r="1.45" fill="#3f2086"/>
<circle cx="434.1" cy="353.05" r="1.45" fill="#b6a6d8"/>
<circle cx="430.8" cy="357.07" r="1.45" fill="#9682c5"/>
<circle cx="427.9" cy="358.88" r="1.45" fill="#b6a6d8"/>
<circle cx="434.3" cy="358.68" r="1.45" fill="#9682c5"/>
<circle cx="426.4" cy="363.61" r="1.45" fill="#3f2086"/>
<circle cx="430" cy="363.61" r="1.45" fill="#6b50a9"/>
<circle cx="418.7" cy="371.54" r="1.45" fill="#b6a6d8"/>
<circle cx="434.6" cy="370.04" r="1.45" fill="#9682c5"/>
<circle cx="437.9" cy="370.54" r="1.45" fill="#9682c5"/>
<circle cx="438.1" cy="378.38" r="1.45" fill="#3f2086"/>
<circle cx="425.2" cy="381.59" r="1.45" fill="#b6a6d8"/>
<circle cx="431.9" cy="381.8" r="1.45" fill="#6b50a9"/>
<circle cx="428.7" cy="384.11" r="1.45" fill="#b6a6d8"/>
<circle cx="436.3" cy="383.6" r="1.45" fill="#3f2086"/>
<circle cx="434.3" cy="385.82" r="1.45" fill="#3f2086"/>
<circle cx="439.1" cy="386.12" r="1.45" fill="#3f2086"/>
<circle cx="429.7" cy="387.42" r="1.45" fill="#b6a6d8"/>
<circle cx="421.2" cy="389.33" r="1.45" fill="#b6a6d8"/>
<circle cx="436.3" cy="389.74" r="1.45" fill="#3f2086"/>
<circle cx="427.4" cy="391.34" r="1.45" fill="#b6a6d8"/>
<circle cx="424.7" cy="393.05" r="1.45" fill="#b6a6d8"/>
<circle cx="433.1" cy="392.05" r="1.45" fill="#3f2086"/>
<circle cx="430.3" cy="393.75" r="1.45" fill="#9682c5"/>
<circle cx="421.4" cy="394.56" r="1.45" fill="#b6a6d8"/>
<circle cx="435.3" cy="394.36" r="1.45" fill="#6b50a9"/>
<circle cx="432.6" cy="396.77" r="1.45" fill="#6b50a9"/>
<circle cx="425.2" cy="397.57" r="1.45" fill="#b6a6d8"/>
<circle cx="431.1" cy="398.78" r="1.45" fill="#3f2086"/>
<circle cx="427.7" cy="398.78" r="1.45" fill="#6b50a9"/>
<circle cx="426.4" cy="401.59" r="1.45" fill="#6b50a9"/>
<circle cx="473.6" cy="396.07" r="1.45" fill="#a895d0"/>
<circle cx="470.5" cy="397.88" r="1.45" fill="#a895d0"/>
<circle cx="468.9" cy="399.38" r="1.45" fill="#b6a6d8"/>
<circle cx="472.2" cy="398.78" r="1.45" fill="#a895d0"/>
<circle cx="474.7" cy="399.08" r="1.45" fill="#a895d0"/>
<circle cx="470.8" cy="400.79" r="1.45" fill="#b6a6d8"/>
<circle cx="472.7" cy="400.59" r="1.45" fill="#a895d0"/>
<circle cx="468.3" cy="402.7" r="1.45" fill="#b6a6d8"/>
<circle cx="470.5" cy="402.3" r="1.45" fill="#b6a6d8"/>
<circle cx="474" cy="404.31" r="1.45" fill="#a895d0"/>
<circle cx="469.4" cy="406.92" r="1.45" fill="#9682c5"/>
<circle cx="472.9" cy="407.42" r="1.45" fill="#a895d0"/>
</g>
<text x="382.9" y="58.8" font-size="8.6" font-style="italic" fill="#111" stroke="#111" stroke-width="0.12">x</text>
<path d="M384 52.7 q0.9 -1.1 1.8 0 t1.8 0" fill="none" stroke="#333" stroke-width="0.55"/>
<text x="387.1" y="60.7" font-size="6.5" font-style="italic" fill="#2a2a2a">C3</text>
<text x="395.3" y="58.8" font-size="8.9" font-style="italic" fill="#111" stroke="#111" stroke-width="0.12" textLength="30.7" lengthAdjust="spacingAndGlyphs"><tspan font-weight="bold">=</tspan>0.03 fg</text>
<text x="351" y="104.9" font-size="8.6" font-style="italic" fill="#111" stroke="#111" stroke-width="0.12">x</text>
<path d="M352.1 98.8 q0.9 -1.1 1.8 0 t1.8 0" fill="none" stroke="#333" stroke-width="0.55"/>
<text x="355.2" y="106.8" font-size="6.5" font-style="italic" fill="#2a2a2a">C2</text>
<text x="363.4" y="104.9" font-size="8.9" font-style="italic" fill="#111" stroke="#111" stroke-width="0.12" textLength="30.1" lengthAdjust="spacingAndGlyphs"><tspan font-weight="bold">=</tspan>0.02 fg</text>
<text x="382.4" y="195" font-size="8.6" font-style="italic" fill="#111" stroke="#111" stroke-width="0.12">x</text>
<path d="M383.5 188.9 q0.9 -1.1 1.8 0 t1.8 0" fill="none" stroke="#333" stroke-width="0.55"/>
<text x="386.6" y="196.9" font-size="6.5" font-style="italic" fill="#2a2a2a">C1</text>
<text x="394.8" y="195" font-size="8.9" font-style="italic" fill="#111" stroke="#111" stroke-width="0.12" textLength="26" lengthAdjust="spacingAndGlyphs"><tspan font-weight="bold">=</tspan>1.5 fg</text>
<text x="457.1" y="174.6" font-size="8.6" font-style="italic" fill="#111" stroke="#111" stroke-width="0.12">x</text>
<path d="M458.2 168.5 q0.9 -1.1 1.8 0 t1.8 0" fill="none" stroke="#333" stroke-width="0.55"/>
<text x="461.3" y="176.5" font-size="6.5" font-style="italic" fill="#2a2a2a">C4</text>
<text x="469.5" y="174.6" font-size="8.9" font-style="italic" fill="#111" stroke="#111" stroke-width="0.12" textLength="4.3" lengthAdjust="spacingAndGlyphs"><tspan font-weight="bold">=</tspan></text>
<text x="450.8" y="184.1" font-size="8.9" font-style="italic" fill="#111" stroke="#111" stroke-width="0.12" textLength="30.1" lengthAdjust="spacingAndGlyphs">3,717 fg</text>
<text x="377.8" y="268.5" font-size="8.6" font-style="italic" fill="#111" stroke="#111" stroke-width="0.12">x</text>
<path d="M378.9 262.4 q0.9 -1.1 1.8 0 t1.8 0" fill="none" stroke="#333" stroke-width="0.55"/>
<text x="382" y="270.4" font-size="6.5" font-style="italic" fill="#2a2a2a">C3</text>
<text x="390.2" y="268.5" font-size="8.9" font-style="italic" fill="#111" stroke="#111" stroke-width="0.12" textLength="35" lengthAdjust="spacingAndGlyphs"><tspan font-weight="bold">=</tspan>1,503 fg</text>
<text x="354.1" y="312.7" font-size="8.6" font-style="italic" fill="#111" stroke="#111" stroke-width="0.12">x</text>
<path d="M355.2 306.6 q0.9 -1.1 1.8 0 t1.8 0" fill="none" stroke="#333" stroke-width="0.55"/>
<text x="358.3" y="314.6" font-size="6.5" font-style="italic" fill="#2a2a2a">C2</text>
<text x="366.5" y="312.7" font-size="8.9" font-style="italic" fill="#111" stroke="#111" stroke-width="0.12" textLength="28" lengthAdjust="spacingAndGlyphs"><tspan font-weight="bold">=</tspan>137 fg</text>
<text x="367.8" y="403.2" font-size="8.6" font-style="italic" fill="#111" stroke="#111" stroke-width="0.12">x</text>
<path d="M368.9 397.1 q0.9 -1.1 1.8 0 t1.8 0" fill="none" stroke="#333" stroke-width="0.55"/>
<text x="372" y="405.1" font-size="6.5" font-style="italic" fill="#2a2a2a">C1</text>
<text x="380.2" y="403.2" font-size="8.9" font-style="italic" fill="#111" stroke="#111" stroke-width="0.12" textLength="39.7" lengthAdjust="spacingAndGlyphs"><tspan font-weight="bold">=</tspan>11,146 fg</text>
<text x="461.4" y="380.8" font-size="8.6" font-style="italic" fill="#111" stroke="#111" stroke-width="0.12">x</text>
<path d="M462.5 374.7 q0.9 -1.1 1.8 0 t1.8 0" fill="none" stroke="#333" stroke-width="0.55"/>
<text x="465.6" y="382.7" font-size="6.5" font-style="italic" fill="#2a2a2a">C4</text>
<text x="473.8" y="380.8" font-size="8.9" font-style="italic" fill="#111" stroke="#111" stroke-width="0.12" textLength="4.3" lengthAdjust="spacingAndGlyphs"><tspan font-weight="bold">=</tspan></text>
<text x="458.3" y="390.6" font-size="8.9" font-style="italic" fill="#111" stroke="#111" stroke-width="0.12" textLength="23.4" lengthAdjust="spacingAndGlyphs">638 fg</text>
<defs><linearGradient id="gb" x1="0" y1="1" x2="0" y2="0"><stop offset="0" stop-color="#d8d8d8"/><stop offset="0.25" stop-color="#e6b3a6"/><stop offset="0.53" stop-color="#dc7a5c"/><stop offset="0.8" stop-color="#cf4420"/><stop offset="1" stop-color="#c93412"/></linearGradient><linearGradient id="gc" x1="0" y1="1" x2="0" y2="0"><stop offset="0" stop-color="#d8d8d8"/><stop offset="0.25" stop-color="#b8a9d8"/><stop offset="0.5" stop-color="#8f78c0"/><stop offset="0.75" stop-color="#5e3f9f"/><stop offset="1" stop-color="#341577"/></linearGradient></defs>
<rect x="490.2" y="82.7" width="9.9" height="54.9" fill="url(#gb)"/>
<path d="M490.2 93.8 h1.8 M498.3 93.8 h1.8" stroke="#fff" stroke-width="0.9"/>
<path d="M490.2 109.4 h1.8 M498.3 109.4 h1.8" stroke="#fff" stroke-width="0.9"/>
<path d="M490.2 124.3 h1.8 M498.3 124.3 h1.8" stroke="#fff" stroke-width="0.9"/>
<text x="503" y="96.6" font-size="8" fill="#222">2</text>
<text x="503" y="112.2" font-size="8" fill="#222">1</text>
<text x="503" y="127.1" font-size="8" fill="#222">0</text>
<rect x="490.1" y="293.3" width="9.8" height="55" fill="url(#gc)"/>
<path d="M490.1 298.7 h1.8 M498.1 298.7 h1.8" stroke="#fff" stroke-width="0.9"/>
<text x="502.7" y="301.4" font-size="8" fill="#222">3</text>
<path d="M490.1 309.5 h1.8 M498.1 309.5 h1.8" stroke="#fff" stroke-width="0.9"/>
<text x="502.7" y="312.2" font-size="8" fill="#222">2</text>
<path d="M490.1 320 h1.8 M498.1 320 h1.8" stroke="#fff" stroke-width="0.9"/>
<text x="502.7" y="322.7" font-size="8" fill="#222">1</text>
<path d="M490.1 330.8 h1.8 M498.1 330.8 h1.8" stroke="#fff" stroke-width="0.9"/>
<text x="502.7" y="333.5" font-size="8" fill="#222">0</text>
<path d="M490.1 341.4 h1.8 M498.1 341.4 h1.8" stroke="#fff" stroke-width="0.9"/>
<text x="502.7" y="344.1" font-size="8" fill="#222">−1</text>
</svg></body></html>
